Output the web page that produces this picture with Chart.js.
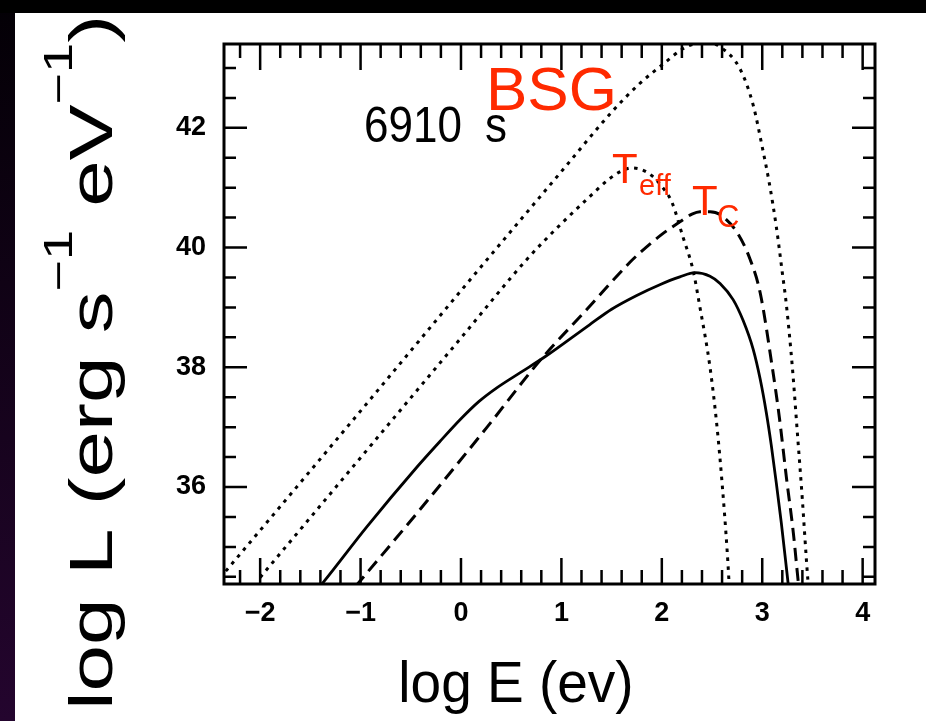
<!DOCTYPE html>
<html>
<head>
<meta charset="utf-8">
<script src="https://cdn.jsdelivr.net/npm/chart.js@4.4.0/dist/chart.umd.min.js"></script>
<style>
  html, body { margin: 0; padding: 0; background: #000; }
</style>
</head>
<body>
<canvas id="sed" width="926" height="721"></canvas>
<script>
// spectra at t = 6910 s, log E (eV) vs log L (erg s^-1 eV^-1)
const bsgE  = [-2.40, -1.10, 0.16, 1.00, 1.51, 1.78, 2.01, 2.21, 2.32, 2.45, 2.60, 2.78, 2.91, 3.00, 3.07, 3.14, 3.20, 3.24, 3.30, 3.35, 3.40, 3.44, 3.47];
const bsgL  = [34.48, 37.07, 39.60, 41.27, 42.28, 42.74, 43.06, 43.32, 43.40, 43.43, 43.33, 42.98, 42.38, 41.68, 41.08, 40.35, 39.58, 39.05, 38.00, 36.90, 35.78, 34.78, 34.10];

const teffE = [-2.00, -1.00, 0.00, 0.66, 1.00, 1.25, 1.48, 1.60, 1.70, 1.80, 1.90, 2.00, 2.10, 2.21, 2.31, 2.38, 2.48, 2.55, 2.60, 2.65, 2.68];
const teffL = [34.49, 36.49, 38.49, 39.81, 40.40, 40.80, 41.15, 41.28, 41.33, 41.30, 41.20, 41.02, 40.76, 40.18, 39.63, 39.00, 38.00, 37.00, 36.07, 34.95, 34.10];

const tcE   = [-1.05, -0.41, 0.26, 0.79, 1.25, 1.68, 1.78, 2.00, 2.18, 2.30, 2.38, 2.48, 2.58, 2.75, 2.88, 2.98, 3.10, 3.17, 3.24, 3.31, 3.35, 3.39];
const tcL   = [34.34, 35.62, 37.00, 38.12, 38.96, 39.75, 39.91, 40.22, 40.43, 40.56, 40.60, 40.60, 40.55, 40.25, 39.80, 39.24, 38.00, 37.17, 36.17, 35.23, 34.56, 33.90];

const modelE = [-1.45, -1.37, -0.94, -0.44, -0.21, 0.00, 0.18, 0.36, 0.59, 0.84, 1.28, 1.50, 1.75, 1.98, 2.18, 2.33, 2.48, 2.58, 2.71, 2.81, 2.91, 2.98, 3.04, 3.09, 3.14, 3.19, 3.24, 3.28];
const modelL = [34.25, 34.41, 35.33, 36.33, 36.76, 37.14, 37.43, 37.66, 37.91, 38.18, 38.71, 38.97, 39.20, 39.38, 39.51, 39.58, 39.52, 39.40, 39.13, 38.78, 38.30, 37.80, 37.25, 36.70, 36.07, 35.40, 34.66, 34.05];

const xLabels = [-2, -1, 0, 1, 2, 3, 4];
const yLabels = [36, 38, 40, 42];

const toPoints = (xs, ys) => xs.map((x, i) => ({ x: x, y: ys[i] }));
const near = (v, list) => list.find(n => Math.abs(v - n) < 1e-6);

function stretchText(ctx, text, x, y, font, color, sx, sy, align) {
  ctx.save();
  ctx.translate(x, y);
  ctx.scale(sx, sy);
  ctx.font = font;
  ctx.fillStyle = color;
  ctx.textAlign = align || 'left';
  ctx.textBaseline = 'alphabetic';
  ctx.fillText(text, 0, 0);
  ctx.restore();
}

// dark frame around the white sheet
const backdrop = {
  id: 'backdrop',
  beforeDraw(chart) {
    const ctx = chart.ctx;
    const g = ctx.createLinearGradient(0, 0, 0, chart.height);
    g.addColorStop(0, '#030005');
    g.addColorStop(1, '#24052e');
    ctx.save();
    ctx.fillStyle = g;
    ctx.fillRect(0, 0, chart.width, chart.height);
    ctx.fillStyle = '#000';
    ctx.fillRect(0, 0, chart.width, 13);
    ctx.fillStyle = '#fff';
    ctx.fillRect(15, 13, chart.width - 15, chart.height - 13);
    ctx.restore();
  }
};

// box with inward ticks on all four sides, axis titles and labels
const frame = {
  id: 'frame',
  afterDatasetsDraw(chart) {
    const { ctx, chartArea: a, scales: { x, y } } = chart;
    ctx.save();
    ctx.strokeStyle = '#000';
    ctx.lineWidth = 2.5;
    ctx.beginPath();
    x.ticks.forEach(t => {
      const px = x.getPixelForValue(t.value);
      const len = near(t.value, xLabels) !== undefined ? 26 : 14;
      ctx.moveTo(px, a.bottom); ctx.lineTo(px, a.bottom - len);
      ctx.moveTo(px, a.top); ctx.lineTo(px, a.top + len);
    });
    y.ticks.forEach(t => {
      const py = y.getPixelForValue(t.value);
      const len = near(t.value, yLabels) !== undefined ? 23 : 12;
      ctx.moveTo(a.left, py); ctx.lineTo(a.left + len, py);
      ctx.moveTo(a.right, py); ctx.lineTo(a.right - len, py);
    });
    ctx.stroke();
    ctx.lineWidth = 3;
    ctx.strokeRect(a.left, a.top, a.right - a.left, a.bottom - a.top);

    // x title
    stretchText(ctx, 'log E (ev)', 516, 702, '55px "Liberation Sans"', '#000', 1, 1.05, 'center');

    // y title, read bottom to top, with raised exponents
    const parts = [
      { t: 'log L (erg s', sup: false },
      { t: '\u22121', sup: true },
      { t: ' eV', sup: false },
      { t: '\u22121', sup: true },
      { t: ')', sup: false }
    ];
    const mainFont = '62px "Liberation Sans"';
    const supFont = '40px "Liberation Sans"';
    let total = 0;
    parts.forEach(p => {
      ctx.font = p.sup ? supFont : mainFont;
      p.w = ctx.measureText(p.t).width;
      total += p.w;
    });
    ctx.save();
    ctx.translate(112, 710);
    ctx.rotate(-Math.PI / 2);
    ctx.scale(695 / total, 1);
    ctx.fillStyle = '#000';
    ctx.textBaseline = 'alphabetic';
    let cx = 0;
    parts.forEach(p => {
      ctx.font = p.sup ? supFont : mainFont;
      ctx.fillText(p.t, cx, p.sup ? -40 : 0);
      cx += p.w;
    });
    ctx.restore();

    // time stamp and curve labels
    stretchText(ctx, '6910', 364, 142, '44px "Liberation Sans"', '#000', 1, 1.12);
    stretchText(ctx, 's', 485, 142, '44px "Liberation Sans"', '#000', 1, 1.12);
    const red = '#ff2a00';
    stretchText(ctx, 'BSG', 486, 110, '62px "Liberation Sans"', red, 1, 1);
    stretchText(ctx, 'T', 612, 183, '42px "Liberation Sans"', red, 1, 1);
    stretchText(ctx, 'eff', 639, 195, '29px "Liberation Sans"', red, 1, 1);
    stretchText(ctx, 'T', 692, 215, '42px "Liberation Sans"', red, 1, 1);
    stretchText(ctx, 'C', 717, 227, '31px "Liberation Sans"', red, 1, 1);
    ctx.restore();
  }
};

const tickFont = { family: '"Liberation Sans"', size: 27, weight: 'bold' };

const chart = new Chart(document.getElementById('sed').getContext('2d'), {
  type: 'line',
  data: {
    datasets: [
      { label: 'BSG', data: toPoints(bsgE, bsgL), borderDash: [3.5, 5.5], borderWidth: 3 },
      { label: 'Teff', data: toPoints(teffE, teffL), borderDash: [3.5, 5.5], borderWidth: 3 },
      { label: 'Tc', data: toPoints(tcE, tcL), borderDash: [13, 7], borderWidth: 3 },
      { label: 'model', data: toPoints(modelE, modelL), borderWidth: 2.8 }
    ]
  },
  options: {
    responsive: false,
    animation: false,
    devicePixelRatio: 1,
    layout: { padding: { left: 0, right: 51, top: 44, bottom: 0 } },
    elements: {
      line: { borderColor: '#000', cubicInterpolationMode: 'monotone', fill: false },
      point: { radius: 0 }
    },
    datasets: { line: { clip: 0 } },
    plugins: { legend: { display: false }, tooltip: { enabled: false } },
    scales: {
      x: {
        type: 'linear',
        min: -2.36,
        max: 4.123,
        grid: { display: false },
        border: { display: false },
        afterFit: s => { s.height = 137; },
        ticks: {
          stepSize: 0.2,
          includeBounds: false,
          autoSkip: false,
          maxRotation: 0,
          padding: 5,
          color: '#000',
          font: tickFont,
          callback: v => {
            const n = near(v, xLabels);
            if (n === undefined) return '';
            return n < 0 ? '\u2212' + Math.abs(n) : String(n);
          }
        }
      },
      y: {
        type: 'linear',
        min: 34.38,
        max: 43.40,
        grid: { display: false },
        border: { display: false },
        afterFit: s => { s.width = 224; },
        ticks: {
          stepSize: 0.5,
          includeBounds: false,
          autoSkip: false,
          padding: 10,
          color: '#000',
          font: tickFont,
          callback: v => {
            const n = near(v, yLabels);
            return n === undefined ? '' : String(n);
          }
        }
      }
    }
  },
  plugins: [backdrop, frame]
});
</script>
</body>
</html>
